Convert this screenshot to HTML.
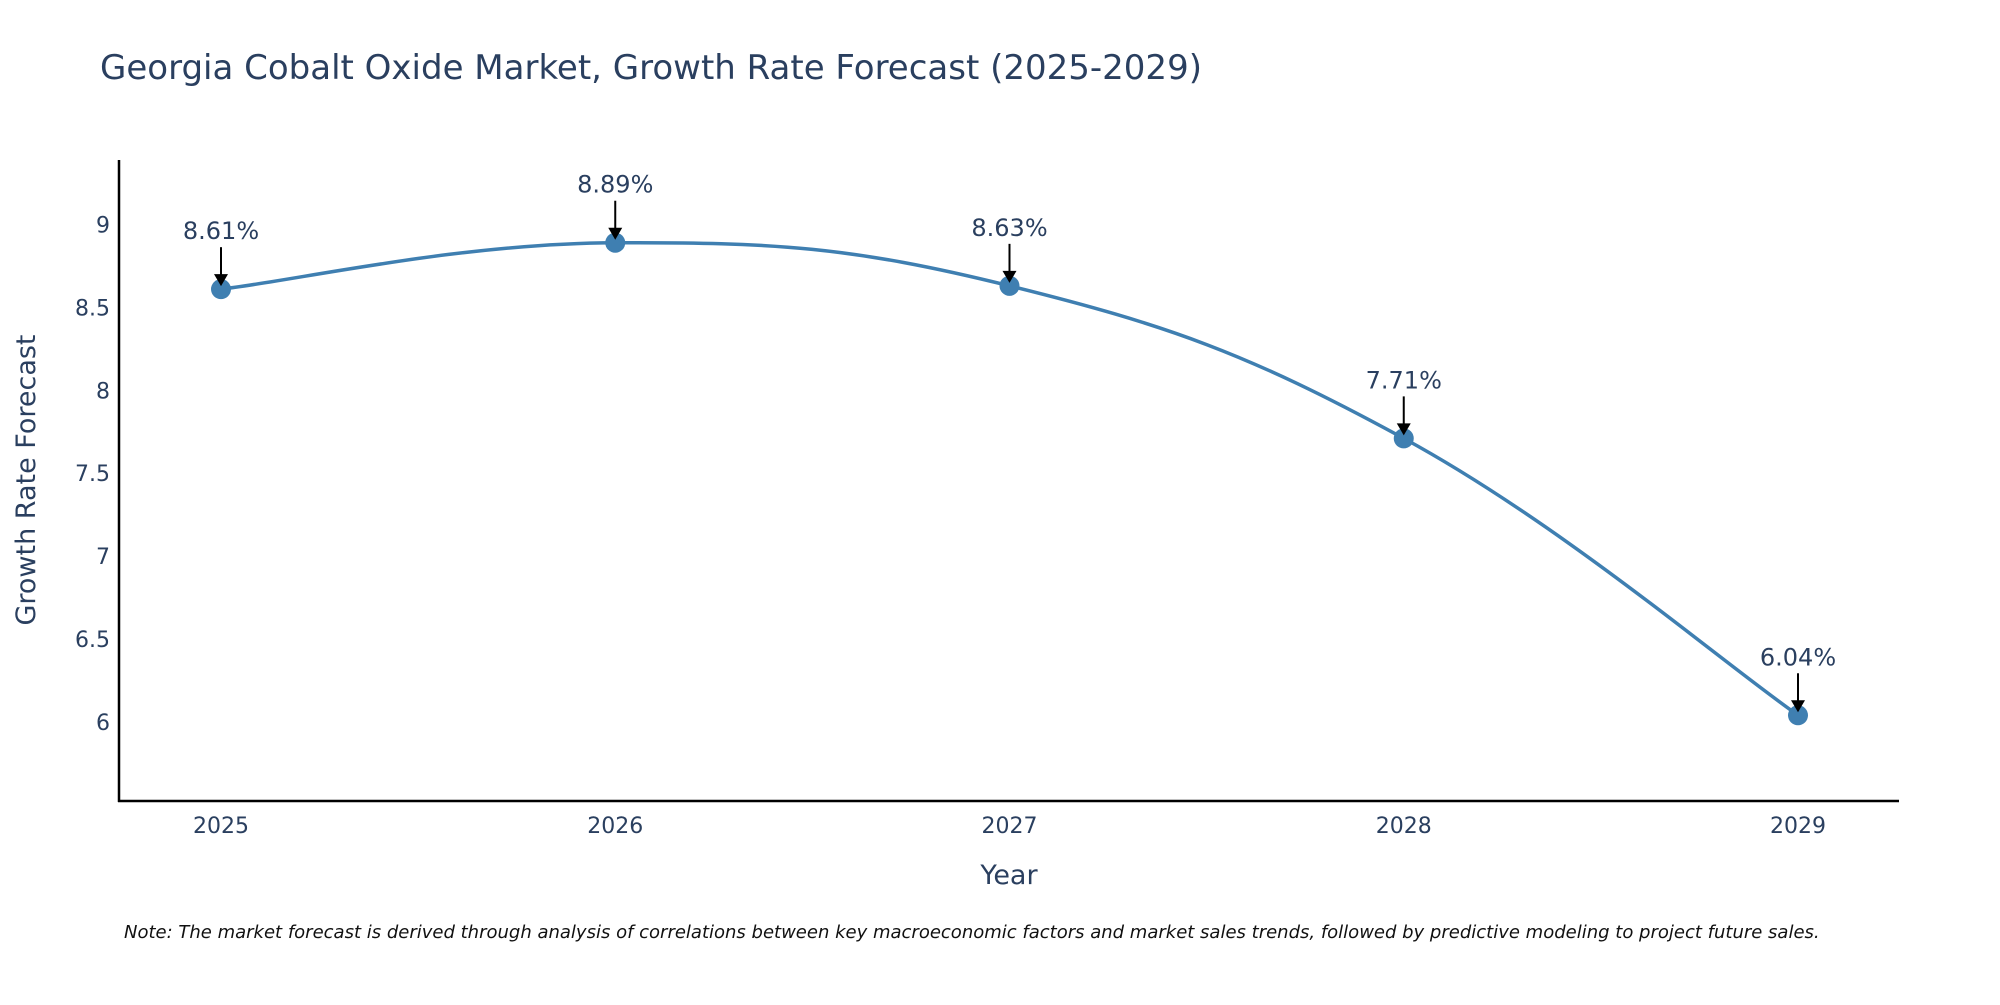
<!DOCTYPE html>
<html><head><meta charset="utf-8"><style>
body{margin:0;background:#fff;}
svg text{font-family:"DejaVu Sans","Liberation Sans",sans-serif;fill:#2a3f5f;}
</style></head><body>
<svg id="chart" width="2000" height="1000" xmlns="http://www.w3.org/2000/svg">
<text x="100" y="79" font-size="34">Georgia Cobalt Oxide Market, Growth Rate Forecast (2025-2029)</text>
<g id="yticks"></g>
<g id="xticks"></g>
<line x1="119" y1="160" x2="119" y2="802" stroke="#000" stroke-width="2.5"/>
<line x1="118" y1="801" x2="1899" y2="801" stroke="#000" stroke-width="2.5"/>
<path id="line" fill="none" stroke="#3f7fb1" stroke-width="3.5"/>
<g id="points"></g>
<g id="annots"></g>
<text x="1009" y="884" font-size="27" text-anchor="middle">Year</text>
<text transform="translate(35,480) rotate(-90)" font-size="27" text-anchor="middle">Growth Rate Forecast</text>
<text x="124" y="938" font-size="18" font-style="italic" style="fill:#111">Note: The market forecast is derived through analysis of correlations between key macroeconomic factors and market sales trends, followed by predictive modeling to project future sales.</text>
</svg>
<script>
const years=[2025,2026,2027,2028,2029];
const values=[8.61,8.89,8.63,7.71,6.04];
const labels=["8.61%","8.89%","8.63%","7.71%","6.04%"];
const yTicks=[6,6.5,7,7.5,8,8.5,9];
const NS="http://www.w3.org/2000/svg";
const xs=y=>221+(y-2025)*394.25;
const ys=v=>224.5-(v-9)*165.8;
function mk(t,a,p){const e=document.createElementNS(NS,t);for(const k in a)e.setAttribute(k,a[k]);p.appendChild(e);return e;}
const yt=document.getElementById('yticks');
yTicks.forEach(v=>{const t=mk('text',{x:110,y:ys(v)+8,'font-size':22,'text-anchor':'end'},yt);t.textContent=v;

});
const xt=document.getElementById('xticks');
years.forEach(y=>{const t=mk('text',{x:xs(y),y:833,'font-size':22,'text-anchor':'middle'},xt);t.textContent=y;

});
const P=years.map((y,i)=>[xs(y),ys(values[i])]);
let d=`M${P[0][0]},${P[0][1]}`;const s=0.2;
for(let i=0;i<P.length-1;i++){const p0=P[Math.max(0,i-1)],p1=P[i],p2=P[i+1],p3=P[Math.min(P.length-1,i+2)];
d+=` C${p1[0]+(p2[0]-p0[0])*s},${p1[1]+(p2[1]-p0[1])*s} ${p2[0]-(p3[0]-p1[0])*s},${p2[1]-(p3[1]-p1[1])*s} ${p2[0]},${p2[1]}`;}
document.getElementById('line').setAttribute('d',d);
const pg=document.getElementById('points'),ag=document.getElementById('annots');
P.forEach((p,i)=>{const c=mk('circle',{cx:p[0],cy:p[1],r:10,fill:'#3f7fb1'},pg);


const l=mk('line',{x1:p[0],y1:p[1]-42,x2:p[0],y2:p[1]-14,stroke:'#000','stroke-width':2},ag);


const h=mk('polygon',{points:`${p[0]-7},${p[1]-15} ${p[0]+7},${p[1]-15} ${p[0]},${p[1]-3}`,fill:'#000'},ag);


const t=mk('text',{x:p[0],y:p[1]-50,'font-size':24,'text-anchor':'middle'},ag);t.textContent=labels[i];

});
</script>
</body></html>
